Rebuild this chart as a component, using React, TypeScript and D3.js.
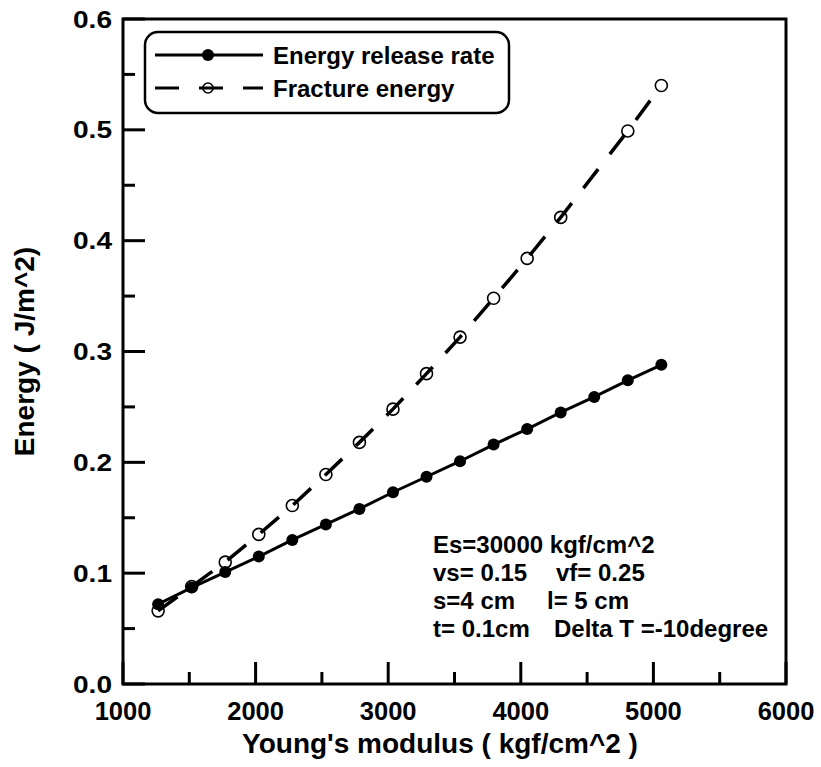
import React from "react";
import * as d3 from "d3";

// Young's modulus (kgf/cm^2)
const releaseX = [1265, 1518, 1771, 2024, 2277, 2530, 2783, 3036, 3289, 3542, 3795, 4048, 4301, 4554, 4807, 5060];
// Energy release rate (J/m^2)
const releaseY = [0.072, 0.087, 0.101, 0.115, 0.130, 0.144, 0.158, 0.173, 0.187, 0.201, 0.216, 0.230, 0.245, 0.259, 0.274, 0.288];

// Fracture energy (no marker visible at 4554 in the source)
const fractureX = [1265, 1518, 1771, 2024, 2277, 2530, 2783, 3036, 3289, 3542, 3795, 4048, 4301, 4807, 5060];
const fractureY = [0.066, 0.088, 0.110, 0.135, 0.161, 0.189, 0.218, 0.248, 0.280, 0.313, 0.348, 0.384, 0.421, 0.499, 0.540];

const xMajor = [1000, 2000, 3000, 4000, 5000, 6000];
const xMinor = [1500, 2500, 3500, 4500, 5500];
const yMajor = [0, 0.1, 0.2, 0.3, 0.4, 0.5, 0.6];
const yMinor = [0.05, 0.15, 0.25, 0.35, 0.45, 0.55];

const legendLabels = ["Energy release rate", "Fracture energy"];
const noteLines = [
  ["Es=30000 kgf/cm^2", ""],
  ["vs= 0.15", "vf= 0.25"],
  ["s=4 cm", "l= 5 cm"],
  ["t= 0.1cm", "Delta T =-10degree"],
];

const FONT = "'Liberation Sans', Arial, Helvetica, sans-serif";

export default function App() {
  const left = 123, right = 786, top = 19, bottom = 684;
  const x = d3.scaleLinear().domain([1000, 6000]).range([left, right]);
  const y = d3.scaleLinear().domain([0, 0.6]).range([bottom, top]);

  const release = releaseX.map((v, i) => [v, releaseY[i]] as [number, number]);
  const fracture = fractureX.map((v, i) => [v, fractureY[i]] as [number, number]);
  const line = d3.line<[number, number]>().x((d) => x(d[0])).y((d) => y(d[1]));

  const noteX2 = [0, 556, 547, 554];

  return (
    <svg width={821} height={767} style={{ position: "absolute", left: 0, top: 0, background: "#fff" }}
      fontFamily={FONT} fontWeight="bold">
      {/* frame */}
      <rect x={left} y={top} width={right - left} height={bottom - top} fill="none" stroke="#000" strokeWidth={3} />

      {/* x ticks */}
      {xMajor.map((t) => (
        <g key={"xm" + t}>
          <line x1={x(t)} x2={x(t)} y1={bottom} y2={bottom - 22} stroke="#000" strokeWidth={3} />
          <text x={x(t)} y={720} textAnchor="middle" fontSize={25.5}>{t}</text>
        </g>
      ))}
      {xMinor.map((t) => (
        <line key={"xn" + t} x1={x(t)} x2={x(t)} y1={bottom} y2={bottom - 12} stroke="#000" strokeWidth={3} />
      ))}

      {/* y ticks */}
      {yMajor.map((t) => (
        <g key={"ym" + t}>
          <line x1={left} x2={left + 22} y1={y(t)} y2={y(t)} stroke="#000" strokeWidth={3} />
          <text transform={`translate(112,${y(t) + 8.5}) scale(1.17,1)`} textAnchor="end" fontSize={24}>
            {t.toFixed(1)}
          </text>
        </g>
      ))}
      {yMinor.map((t) => (
        <line key={"yn" + t} x1={left} x2={left + 12} y1={y(t)} y2={y(t)} stroke="#000" strokeWidth={3} />
      ))}

      {/* axis titles */}
      <text x={440} y={753} textAnchor="middle" fontSize={28}>Young's modulus ( kgf/cm^2 )</text>
      <text transform={`translate(34,${(top + bottom) / 2}) rotate(-90)`} textAnchor="middle" fontSize={28}>
        Energy ( J/m^2)
      </text>

      {/* fracture energy: open markers under dashed line */}
      {fracture.map((d, i) => (
        <circle key={"fc" + i} cx={x(d[0])} cy={y(d[1])} r={6} fill="#fff" stroke="#000" strokeWidth={1.6} />
      ))}
      <path d={line(fracture) || ""} fill="none" stroke="#000" strokeWidth={3.5} strokeDasharray="24,19" />

      {/* energy release rate */}
      <path d={line(release) || ""} fill="none" stroke="#000" strokeWidth={3} />
      {release.map((d, i) => (
        <circle key={"rc" + i} cx={x(d[0])} cy={y(d[1])} r={6} fill="#000" />
      ))}

      {/* legend */}
      <rect x={145} y={32} width={364} height={81} rx={13} fill="#fff" stroke="#000" strokeWidth={2.5} />
      <line x1={155} x2={263} y1={55} y2={55} stroke="#000" strokeWidth={3} />
      <circle cx={208} cy={55} r={6} fill="#000" />
      <text x={273} y={63.5} fontSize={24}>{legendLabels[0]}</text>
      <circle cx={208} cy={88} r={5} fill="#fff" stroke="#000" strokeWidth={1.6} />
      <line x1={155} x2={263} y1={88} y2={88} stroke="#000" strokeWidth={3} strokeDasharray="24,20" />
      <text x={273} y={96.5} fontSize={24}>{legendLabels[1]}</text>

      {/* parameter note */}
      {noteLines.map((row, i) => (
        <g key={"n" + i}>
          <text x={433} y={553 + i * 28} fontSize={24}>{row[0]}</text>
          {row[1] && <text x={noteX2[i]} y={553 + i * 28} fontSize={24}>{row[1]}</text>}
        </g>
      ))}
    </svg>
  );
}
